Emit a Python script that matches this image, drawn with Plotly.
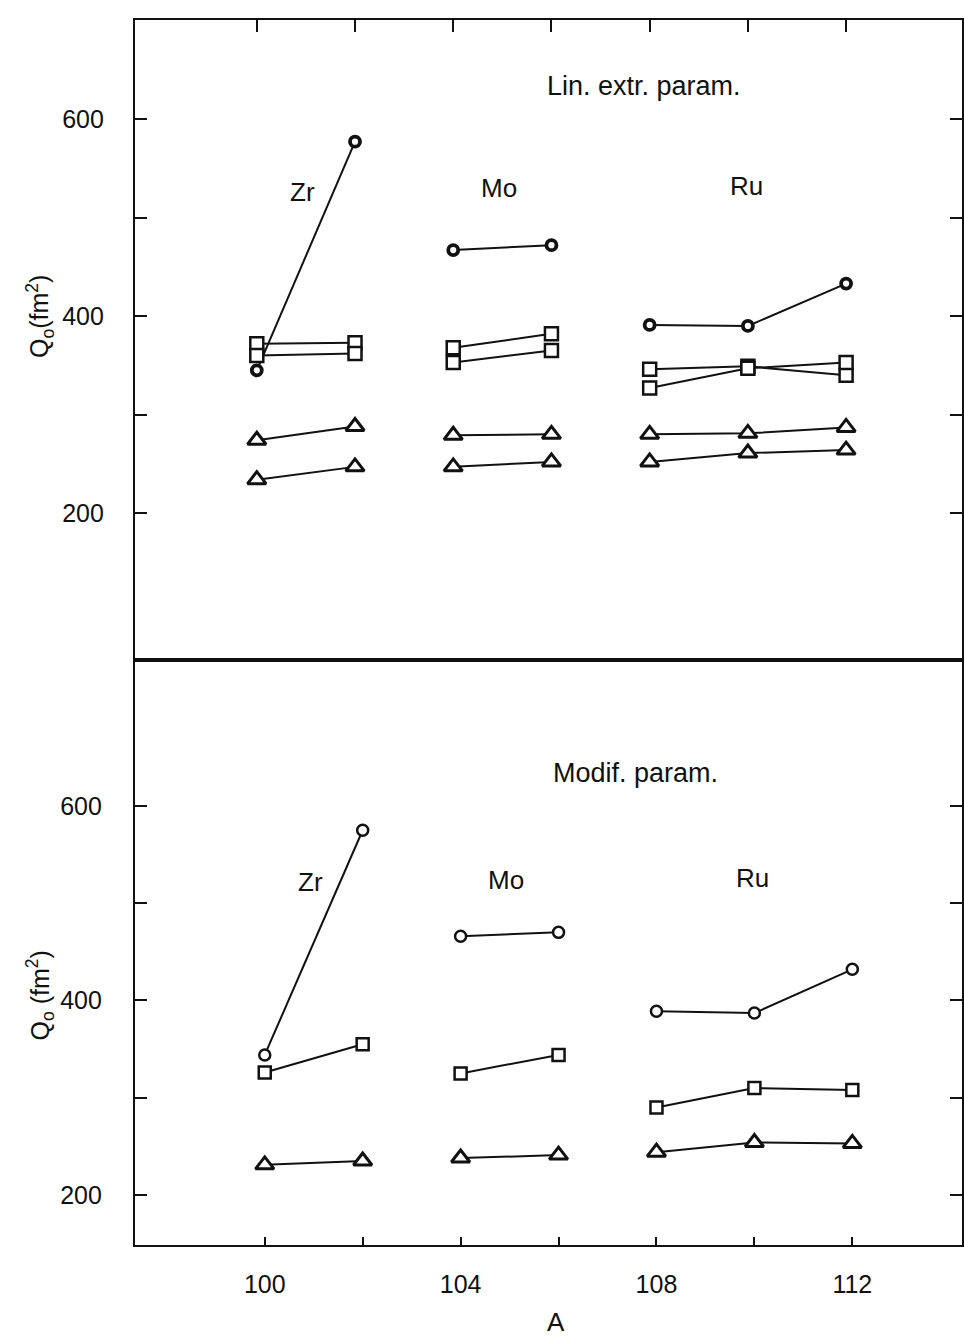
import plotly.graph_objects as go

# ---------------- data ----------------
A_zr = [100, 102]
A_mo = [104, 106]
A_ru = [108, 110, 112]

# Top panel: "Lin. extr. param."
top_circ = {"zr": [345, 577], "mo": [467, 472], "ru": [391, 390, 433]}
top_sq1 = {"zr": [372, 373], "mo": [368, 382], "ru": [346, 349, 340]}
top_sq2 = {"zr": [360, 362], "mo": [353, 365], "ru": [327, 347, 353]}
top_tri1 = {"zr": [274, 288], "mo": [279, 280], "ru": [280, 281, 287]}
top_tri2 = {"zr": [234, 247], "mo": [247, 252], "ru": [252, 261, 264]}

# Bottom panel: "Modif. param."
bot_circ = {"zr": [344, 575], "mo": [466, 470], "ru": [389, 387, 432]}
bot_sq = {"zr": [326, 355], "mo": [325, 344], "ru": [290, 310, 308]}
bot_tri = {"zr": [231, 235], "mo": [238, 241], "ru": [244, 254, 253]}

x_major = [100, 104, 108, 112]
x_minor = [102, 106, 110]
x_all = [100, 102, 104, 106, 108, 110, 112]
y_major = [200, 400, 600]
y_minor_vals = [300, 500]

FONT = "Liberation Sans, Arial"
BLACK = "#111111"

fig = go.Figure()

groups = [("zr", A_zr), ("mo", A_mo), ("ru", A_ru)]


def add_series(vals, symbol, size, lw_marker, xa, ya):
    for key, xs in groups:
        fig.add_trace(go.Scatter(
            x=xs, y=vals[key], mode="lines+markers",
            line=dict(color=BLACK, width=2),
            marker=dict(symbol=symbol, size=size, color="white",
                        line=dict(color=BLACK, width=lw_marker)),
            xaxis=xa, yaxis=ya, showlegend=False, hoverinfo="skip"))


# top panel
add_series(top_circ, "circle", 10, 3.8, "x2", "y2")
add_series(top_sq1, "square", 13, 2.5, "x2", "y2")
add_series(top_sq2, "square", 13, 2.5, "x2", "y2")
add_series(top_tri1, "triangle-up", 16, 3, "x2", "y2")
add_series(top_tri2, "triangle-up", 16, 3, "x2", "y2")

# bottom panel
add_series(bot_circ, "circle", 11, 2.5, "x", "y")
add_series(bot_sq, "square", 12, 2.5, "x", "y")
add_series(bot_tri, "triangle-up", 16, 3, "x", "y")

split = 585 / 1225

axis_common = dict(showline=True, linecolor=BLACK, linewidth=2.2,
                   showgrid=False, zeroline=False, ticks="inside",
                   tickcolor=BLACK, tickwidth=2)

y_minor = dict(ticks="inside", ticklen=12, tickwidth=2, tickcolor=BLACK,
               tickmode="array", tickvals=y_minor_vals, showgrid=False)

fig.update_layout(
    width=964, height=1337,
    margin=dict(l=135, r=0, t=20, b=92),
    paper_bgcolor="white", plot_bgcolor="white",
    font=dict(family=FONT, size=25, color=BLACK),
    xaxis=dict(**axis_common, domain=[0, 1], range=[97.35, 114.24],
               anchor="y", side="bottom", mirror=True, ticklen=8,
               tickvals=x_major,
               minor=dict(ticks="inside", ticklen=8, tickwidth=2,
                          tickcolor=BLACK, tickmode="array",
                          tickvals=x_minor, showgrid=False),
               ticklabelstandoff=16, tickfont=dict(size=25)),
    yaxis=dict(**axis_common, domain=[0, split], range=[148.6, 750],
               anchor="x", mirror="ticks", ticklen=12,
               tickvals=y_major, minor=y_minor,
               ticklabelstandoff=26, tickfont=dict(size=25)),
    xaxis2=dict(**axis_common, domain=[0, 1], range=[97.52, 114.36],
                anchor="y2", side="top", mirror=True, ticklen=12,
                tickvals=x_all, showticklabels=False),
    yaxis2=dict(**axis_common, domain=[split, 1], range=[51, 700.5],
                anchor="x2", mirror="ticks", ticklen=12,
                tickvals=y_major, minor=y_minor,
                ticklabelstandoff=24, tickfont=dict(size=25)),
)

ann = []


def label(text, x, y, xa, ya, size=26):
    ann.append(dict(text=text, x=x, y=y, xref=xa, yref=ya, showarrow=False,
                    font=dict(size=size, family=FONT, color=BLACK),
                    xanchor="center", yanchor="middle"))


label("Lin. extr. param.", 107.88, 634, "x2", "y2", 27)
label("Zr", 100.93, 526, "x2", "y2")
label("Mo", 104.93, 530, "x2", "y2")
label("Ru", 109.97, 532, "x2", "y2")
label("Modif. param.", 107.57, 634, "x", "y", 27)
label("Zr", 100.93, 522, "x", "y")
label("Mo", 104.93, 524, "x", "y")
label("Ru", 109.96, 526, "x", "y")

# axis titles
ytitles = [("y2", 400, "Q<sub>o</sub>(fm<sup>2</sup>)"),
           ("y", 405, "Q<sub>o</sub> (fm<sup>2</sup>)")]
for ya, yv, txt in ytitles:
    ann.append(dict(text=txt, x=-0.115, y=yv, xref="paper", yref=ya,
                    showarrow=False, textangle=-90,
                    font=dict(size=25, family=FONT, color=BLACK),
                    xanchor="center", yanchor="middle"))
ann.append(dict(text="A", x=105.95, y=-0.063, xref="x", yref="paper",
                showarrow=False, font=dict(size=26, family=FONT, color=BLACK),
                xanchor="center", yanchor="middle"))

fig.update_layout(annotations=ann)

fig.write_html("out.html", config={"displayModeBar": False},
               post_script="document.body.style.margin='0';")
